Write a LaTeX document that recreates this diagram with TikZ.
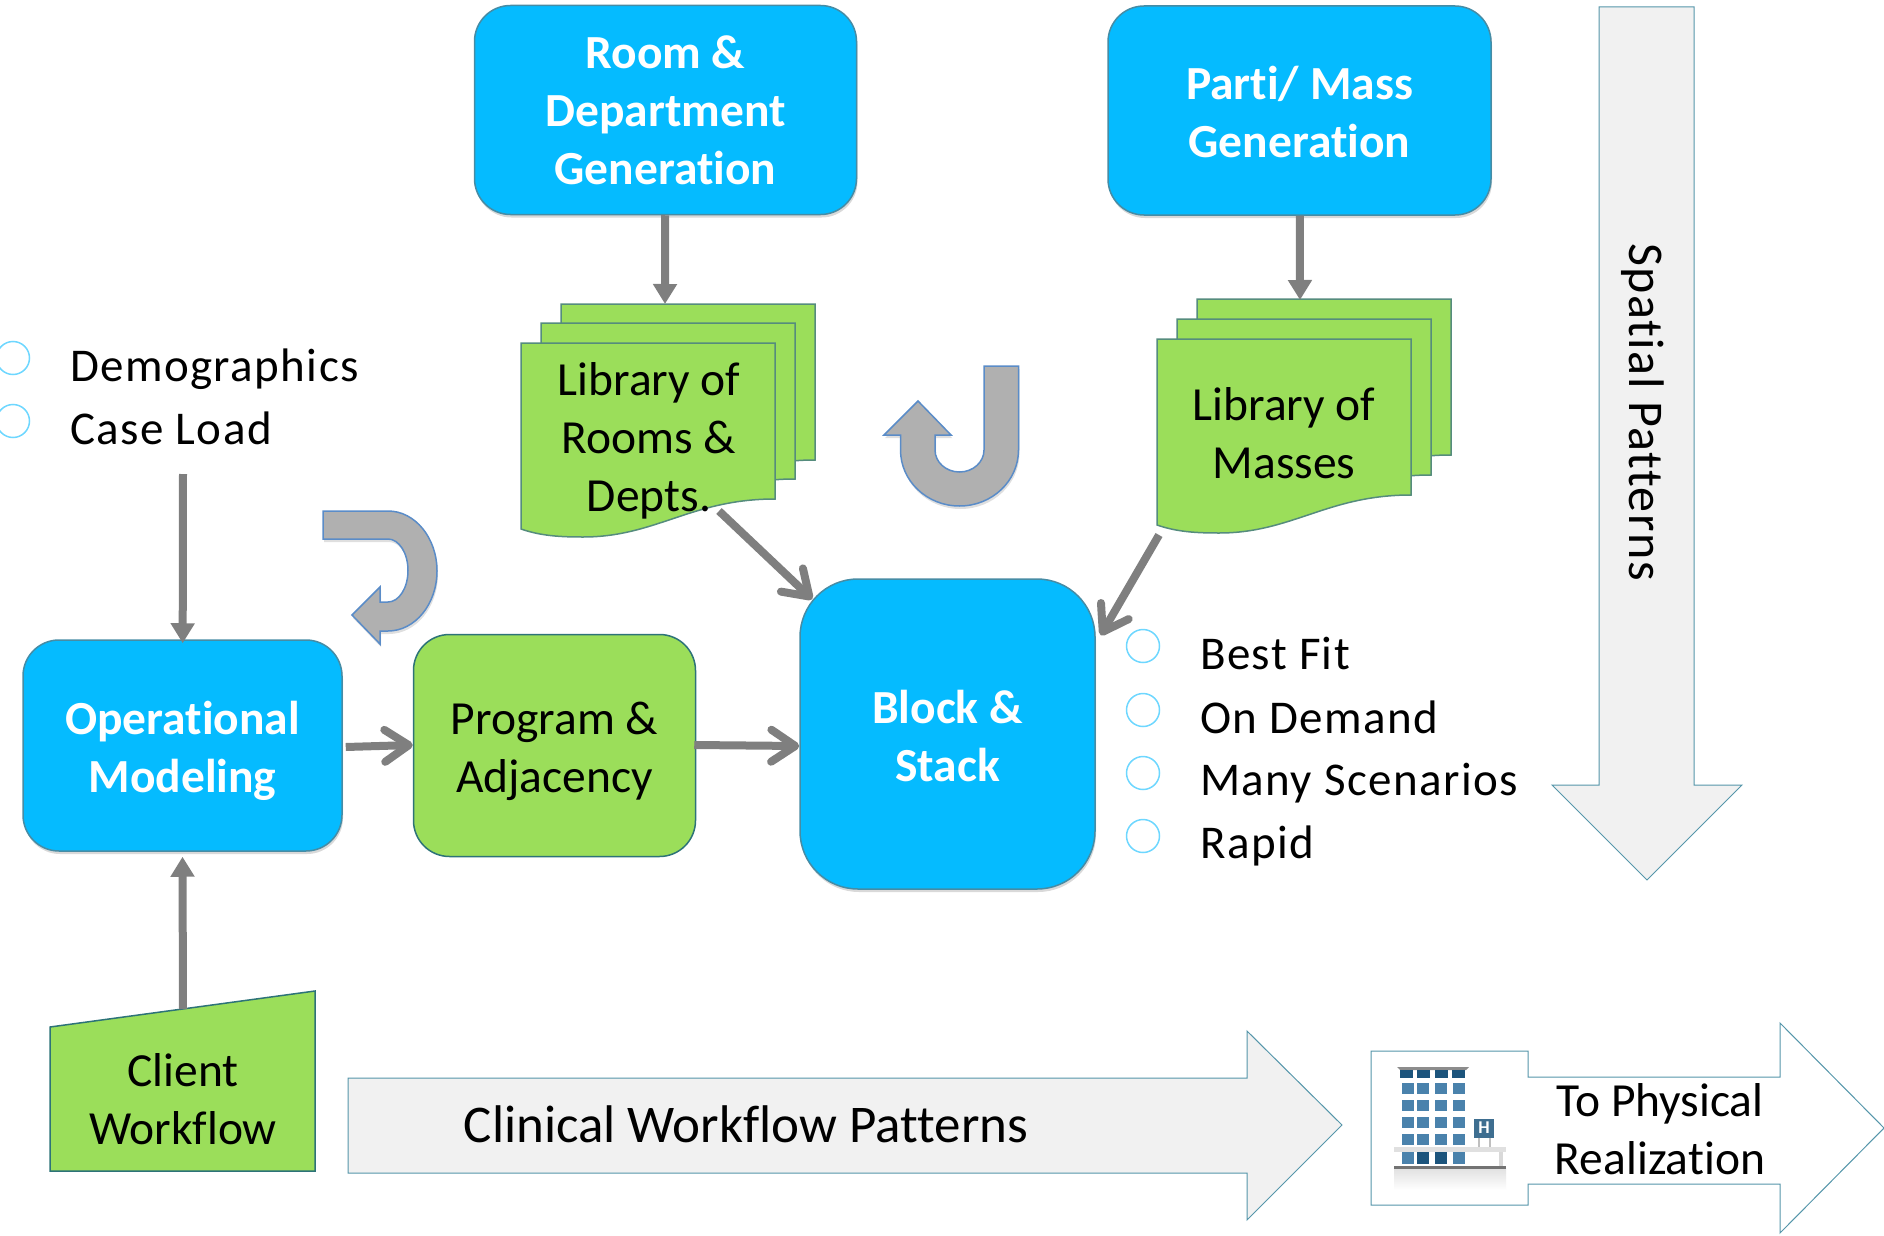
\documentclass[tikz,border=0pt]{standalone}
\usepackage{fontspec}
\setmainfont[Ligatures=NoCommon]{Carlito}
\newfontfamily\spacedfont[LetterSpace=3,Ligatures=NoCommon]{Carlito}
\usetikzlibrary{arrows.meta}
\usetikzlibrary{positioning}
\usetikzlibrary{shadows}
\definecolor{boxblue}{RGB}{5,187,255}
\definecolor{boxgreen}{RGB}{155,222,90}
\definecolor{boxedge}{RGB}{70,140,165}
\definecolor{greenedge}{RGB}{45,115,120}
\definecolor{sheetedge}{RGB}{85,140,125}
\definecolor{flowfill}{RGB}{241,241,241}
\definecolor{flowedge}{RGB}{85,150,170}
\definecolor{turnfill}{RGB}{176,176,176}
\definecolor{turnedge}{RGB}{90,140,200}
\definecolor{dotedge}{RGB}{110,215,255}
\definecolor{linkgray}{RGB}{127,127,127}
\definecolor{winblue}{RGB}{74,130,172}
\definecolor{windark}{RGB}{28,84,124}
\newcommand{\lowered}{\rule{0pt}{44pt}}
\begin{document}
\begin{tikzpicture}[x=1pt,y=-1pt,font=\fontsize{47.5}{58}\selectfont,
                bluebox/.style={rectangle, rounded corners=36pt, fill=boxblue, draw=boxedge, line width=1.5pt, text=white, font=\fontsize{47.5}{58}\selectfont\bfseries, align=center, drop shadow={shadow xshift=1pt, shadow yshift=-3pt, opacity=.3}},
                greenbox/.style={rectangle, rounded corners=36pt, fill=boxgreen, draw=greenedge, line width=1.5pt, align=center},
                sheet/.style={fill=boxgreen, draw=sheetedge, line width=1.5pt},
                flow/.style={fill=flowfill, draw=flowedge, line width=1pt},
                turn/.style={fill=turnfill, draw=turnedge, line width=1.5pt, drop shadow={shadow xshift=1pt, shadow yshift=-3pt, opacity=.25}},
                dot/.style={circle, draw=dotedge, line width=1.5pt, minimum size=33pt, inner sep=0pt},
                item/.style={font=\fontsize{47}{58}\spacedfont, inner sep=0pt, anchor=west},
                label/.style={align=center, inner sep=0pt},
                arrow/.style={draw=linkgray, line width=8pt, -{Triangle[length=20pt,width=23pt]}},
                arrow0/.style={draw=linkgray, line width=8pt, -{Straight Barb[length=24pt,width=32pt,round]}},
                docpage/.pic={\draw[sheet] (0,0) -- (254,0) -- (254,156) .. controls (170,156) and (135,194) .. (62,194) .. controls (40,194) and (20,193) .. (0,186) -- cycle;},
            ]
            \useasboundingbox (0,0) rectangle (1884,1236);
            % top boxes
            \node[bluebox, minimum width=382pt, minimum height=209pt](room) at (665.5,110) {Room \&\\Department\\Generation};
            \node[bluebox, minimum width=383pt, minimum height=209pt](parti) at (1299.5,110.5) {\rule{0pt}{37pt}Parti/ Mass\\Generation};
            % libraries
            \pic at (561,304) {docpage};
            \pic at (541,323) {docpage};
            \pic at (521,343) {docpage};
            \node[label](librooms) at (649,441) {Library of\\Rooms \&\\Depts.};
            \pic at (1197,299) {docpage};
            \pic at (1177,319) {docpage};
            \pic at (1157,339) {docpage};
            \node[label](libmasses) at (1284,433) {Library of\\Masses};
            \coordinate (roomsin) at (665,304);
            \coordinate (massesin) at (1300,300);
            \coordinate (roomsout) at (719,511);
            \coordinate (massesout) at (1159,535);
            % middle row
            \node[bluebox, minimum width=319pt, minimum height=211pt](opmodel) at (182.5,745.5) {\lowered Operational\\Modeling};
            \node[greenbox, minimum width=282pt, minimum height=222pt, right=70pt of opmodel](program) {\lowered Program \&\\Adjacency};
            \node[bluebox, rounded corners=58pt, minimum width=295pt, minimum height=310pt](block) at (947.5,734) {\rule{0pt}{37pt}Block \&\\Stack};
            % bullets
            \node[dot](dotdemo) at (13,358) {};
            \node[dot](dotload) at (13,421) {};
            \node[item](demo) at (70,369) {Demographics};
            \node[item](load) at (70,428) {Case Load};
            \coordinate (loadout) at (183,474);
            \node[dot](dotfit) at (1143,646) {};
            \node[dot](dotdemand) at (1143,710) {};
            \node[dot](dotmany) at (1143,773) {};
            \node[dot](dotrapid) at (1143,836) {};
            \node[item](fit) at (1200,653) {Best Fit};
            \node[item](demand) at (1200,717) {On Demand};
            \node[item](many) at (1200,783) {Many Scenarios};
            \node[item](rapid) at (1200,846) {Rapid};
            % turn arrows
            \path[turn] (984,366) -- (1018.5,366) -- (1018.5,450) arc[start angle=0, end angle=180, x radius=59, y radius=56] -- (900.5,435) -- (884,435) -- (918,401) -- (951,435) -- (935,435) -- (935,450) arc[start angle=180, end angle=0, x radius=24.5, y radius=22] -- cycle;
            \path[turn] (323,511) -- (388,511) arc[start angle=-90, end angle=90, x radius=49, y radius=60] -- (380,631) -- (380,644) -- (352,615) -- (380,587) -- (380,602) -- (388,602) arc[start angle=90, end angle=-90, x radius=20, y radius=31.5] -- (323,539) -- cycle;
            % client
            \draw[sheet, draw=greenedge] (50,1027) -- (315,991) -- (315,1171) -- (50,1171) -- cycle;
            \node[label](client) at (183,1099) {Client\\Workflow};
            \coordinate (clientout) at (183,1009);
            % big arrows
            \draw[flow] (1599,7) -- (1694,7) -- (1694,785) -- (1742,785) -- (1647,880) -- (1552,785) -- (1599,785) -- cycle;
            \node[label, rotate=-90, font=\fontsize{50}{58}\spacedfont](spatial) at (1643,412) {Spatial Patterns};
            \draw[flow] (348,1078) -- (1247,1078) -- (1247,1031) -- (1342,1125) -- (1247,1220) -- (1247,1173) -- (348,1173) -- cycle;
            \node[label, font=\fontsize{53}{58}\selectfont](clinical) at (746,1124) {Clinical Workflow Patterns};
            \draw[flow, fill=white] (1371,1051) -- (1528,1051) -- (1528,1077) -- (1780,1077) -- (1780,1023) -- (1884,1128) -- (1780,1233) -- (1780,1184) -- (1528,1184) -- (1528,1205) -- (1371,1205) -- cycle;
            \node[label](physical) at (1660,1129) {To Physical\\Realization};
            % building
            \shade[top color=black!12, bottom color=white] (1394,1168) rectangle (1506,1190);
            \fill[black!45] (1397,1067) -- (1469,1067) -- (1466,1070) -- (1400,1070) -- cycle;
            \foreach \wx in {1400,1417,1435,1452}
                \fill[windark] (\wx,1070) rectangle +(13,8);
            \foreach \wy in {1083,1100,1117,1134}
                \foreach \wx in {1402,1417,1435,1453}
                    \fill[winblue] (\wx,\wy) rectangle +(12,11);
            \fill[black!12] (1394,1147) rectangle (1506,1152);
            \foreach \wx/\wc in {1402/winblue,1417/windark,1435/windark,1453/winblue}
                \fill[\wc] (\wx,1152) rectangle +(12,12);
            \fill[black!55] (1394,1166) rectangle (1506,1169);
            \fill[black!15] (1499,1152) rectangle (1503,1166);
            \fill[black!25] (1478,1137) rectangle (1480,1147);
            \fill[black!25] (1489,1137) rectangle (1491,1147);
            \node[rectangle, fill=windark!85, text=white, inner sep=0pt, minimum width=20pt, minimum height=19pt, font=\fontsize{18}{18}\selectfont\bfseries](sign) at (1484,1128) {H};
            % links
            \path[arrow] (room) -- (roomsin);
            \path[arrow] (parti) -- (massesin);
            \path[arrow, shorten >=-4pt] (loadout) -- (opmodel);
            \path[arrow] (clientout) -- ([yshift=-5pt]opmodel.south);
            \path[arrow0] ([xshift=3pt]opmodel.east |- 0,747) -- (program.west |- 0,745);
            \path[arrow0] ([xshift=-2pt]program.east |- 0,745) -- (block.west |- 0,746);
            \path[arrow0] (roomsout) -- ([xshift=13pt,yshift=-21pt]block.north west);
            \path[arrow0] (massesout) -- ([xshift=5pt,yshift=-57pt]block.north east);
            \end{tikzpicture}
\end{document}
